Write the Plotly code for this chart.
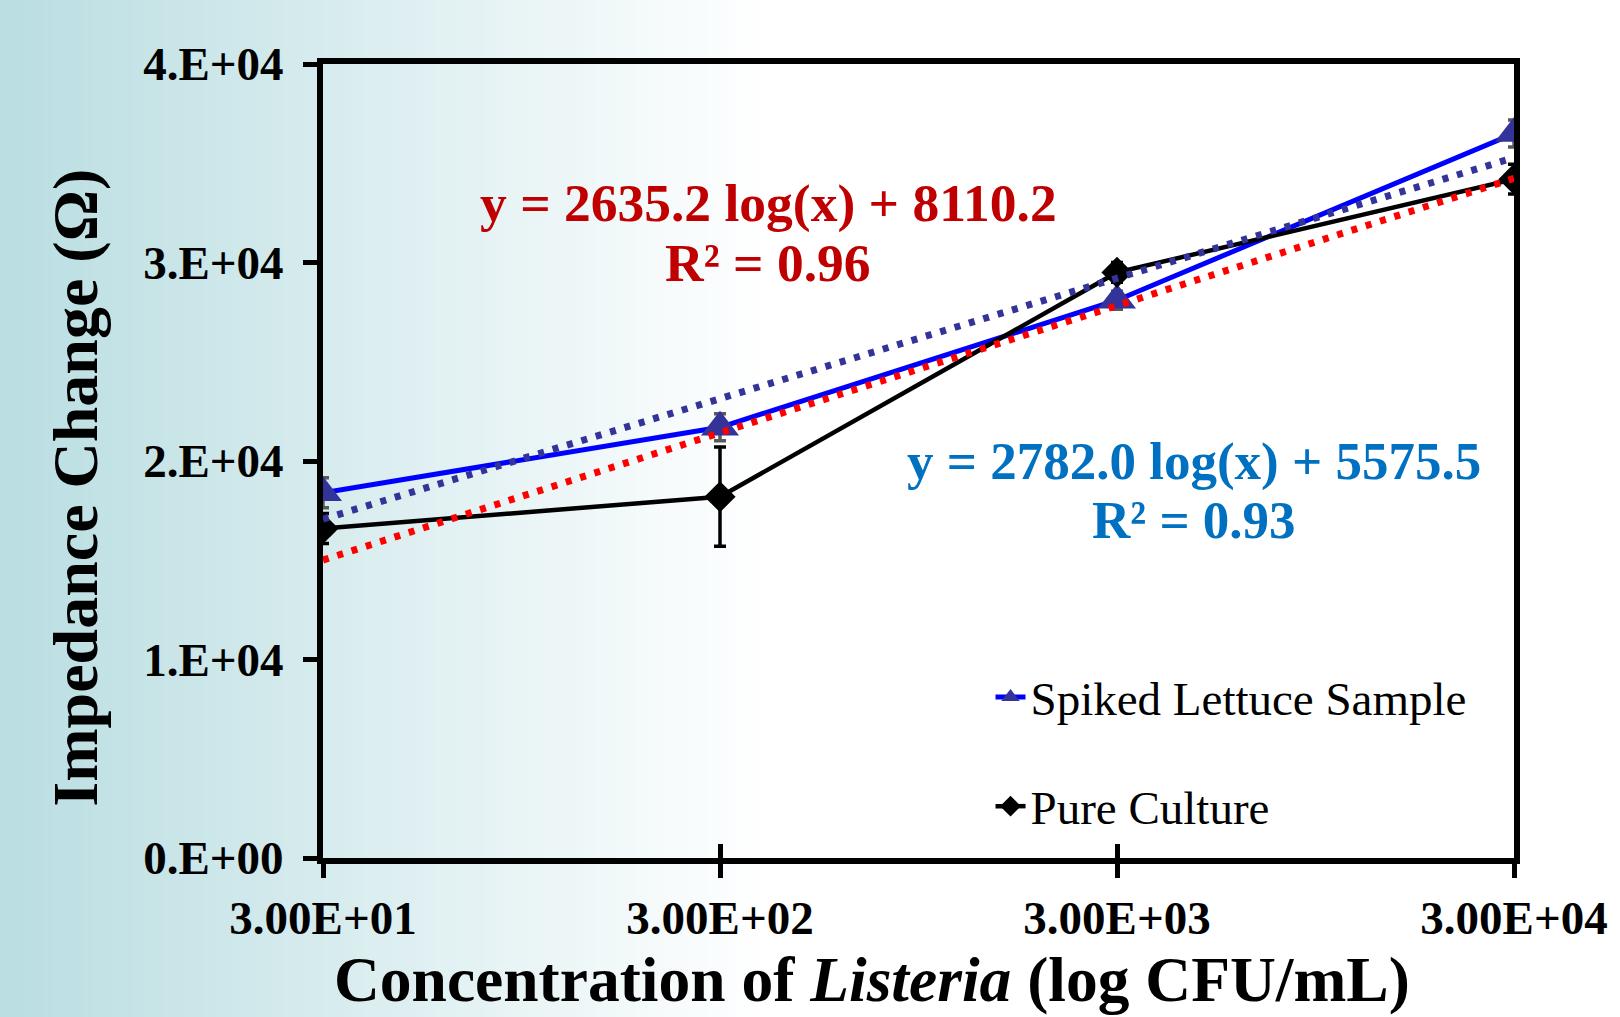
import numpy as np
import plotly.graph_objects as go

# ---- data ----
concentration = [30, 300, 3000, 30000]
x_tick_labels = ["3.00E+01", "3.00E+02", "3.00E+03", "3.00E+04"]
y_tick_values = [0, 10000, 20000, 30000, 40000]
y_tick_labels = ["0.E+00", "1.E+04", "2.E+04", "3.E+04", "4.E+04"]

lettuce = [18400, 21700, 28100, 36500]
lettuce_err = [750, 680, 450, 680]
pure = [16600, 18200, 29500, 34200]
pure_err = [750, 2500, 500, 750]

eq_lettuce = ["y = 2635.2 log(x) + 8110.2", "R² = 0.96"]
eq_pure = ["y = 2782.0 log(x) + 5575.5", "R² = 0.93"]

# ---- geometry (pixels) ----
W, H = 1620, 1017
L, R, T, B = 323, 98, 64, 159
PW, PH = W - L - R, H - T - B


def px_x(p):
    return (p - L) / PW


def px_y(p):
    return (H - B - p) / PH


SERIF = "Liberation Serif, Times New Roman, serif"

fig = go.Figure()

# main series
fig.add_trace(go.Scatter(
    x=concentration, y=lettuce, mode="lines+markers", name="Spiked Lettuce Sample",
    line=dict(color="#0000FF", width=5),
    marker=dict(symbol="triangle-up", size=33, color="#333399", line=dict(width=0)),
    error_y=dict(type="data", array=lettuce_err, visible=True, color="#595959", thickness=3.5, width=6),
    legendgroup="a",
))
fig.add_trace(go.Scatter(
    x=concentration, y=pure, mode="lines+markers", name="Pure Culture",
    line=dict(color="#000000", width=4.5),
    marker=dict(symbol="diamond", size=24, color="#000000", line=dict(width=0)),
    error_y=dict(type="data", array=pure_err, visible=True, color="#000000", thickness=3.5, width=6),
    legendgroup="b",
))

# logarithmic trendlines fitted to the data
lx = np.log(np.array(concentration, dtype=float))
for vals, col in [(lettuce, "#333399"), (pure, "#FF0000")]:
    a, b = np.polyfit(lx, np.array(vals, dtype=float), 1)
    fig.add_trace(go.Scatter(
        x=concentration, y=a * lx + b, mode="lines", showlegend=False, hoverinfo="skip",
        line=dict(color=col, width=7, dash="6px,9px"),
    ))

# invisible trace to carry the inside-tick overlay axis
fig.add_trace(go.Scatter(x=concentration, y=lettuce, xaxis="x2", mode="markers",
                         marker=dict(opacity=0), showlegend=False, hoverinfo="skip"))

# background gradient strips
shapes = []
c0 = np.array([186, 222, 226])
c1 = np.array([255, 255, 255])
n = 75
grad_end = 760
for i in range(n):
    p0 = grad_end * i / n if i else -20
    p1 = grad_end * (i + 1) / n + 1
    t = (i + 0.5) / n
    c = (c0 + (c1 - c0) * t).astype(int)
    shapes.append(dict(type="rect", xref="paper", yref="paper", layer="below",
                       x0=px_x(p0), x1=px_x(p1), y0=px_y(H + 20), y1=px_y(-20),
                       fillcolor=f"rgb({c[0]},{c[1]},{c[2]})", line=dict(width=0)))

annotations = []
for txt, yy in zip(eq_lettuce, [203, 263]):
    annotations.append(dict(text=f"<b>{txt}</b>", xref="paper", yref="paper",
                            x=px_x(771), y=px_y(yy), xanchor="center", yanchor="middle",
                            showarrow=False, font=dict(family=SERIF, size=53.5, color="#C00000")))
for txt, yy in zip(eq_pure, [462, 520]):
    annotations.append(dict(text=f"<b>{txt}</b>", xref="paper", yref="paper",
                            x=px_x(1200), y=px_y(yy), xanchor="center", yanchor="middle",
                            showarrow=False, font=dict(family=SERIF, size=53, color="#0070C0")))
annotations.append(dict(text="<b>Concentration of <i>Listeria</i> (log CFU/mL)</b>",
                        xref="paper", yref="paper", x=px_x(876), y=px_y(980),
                        xanchor="center", yanchor="middle", showarrow=False,
                        font=dict(family=SERIF, size=63.5, color="#000000")))
annotations.append(dict(text="<b>Impedance Change (Ω)</b>", textangle=-90,
                        xref="paper", yref="paper", x=px_x(73), y=px_y(488),
                        xanchor="center", yanchor="middle", showarrow=False,
                        font=dict(family=SERIF, size=64, color="#000000")))

xr = [np.log10(concentration[0]), np.log10(concentration[-1])]
fig.update_layout(
    width=W, height=H, autosize=False,
    margin=dict(l=L, r=R, t=T, b=B, pad=0),
    paper_bgcolor="white", plot_bgcolor="rgba(0,0,0,0)",
    shapes=shapes, annotations=annotations,
    xaxis=dict(type="log", range=xr, tickvals=concentration, ticktext=x_tick_labels,
               showline=True, mirror=True, linecolor="black", linewidth=6,
               ticks="outside", ticklen=14, tickwidth=5, tickcolor="black",
               showgrid=False, zeroline=False, ticklabelstandoff=0,
               tickfont=dict(family=SERIF, size=47, color="black", weight="bold")),
    xaxis2=dict(type="log", range=xr, tickvals=concentration, overlaying="x",
                showticklabels=False, ticks="inside", ticklen=14, tickwidth=5,
                tickcolor="black", showgrid=False, zeroline=False, showline=False),
    yaxis=dict(range=[0, 40000], tickvals=y_tick_values, ticktext=y_tick_labels,
               showline=True, mirror=True, linecolor="black", linewidth=6,
               ticks="outside", ticklen=14, tickwidth=5, tickcolor="black",
               showgrid=False, zeroline=False, ticklabelstandoff=10,
               tickfont=dict(family=SERIF, size=47, color="black", weight="bold")),
    showlegend=True,
    legend=dict(x=px_x(995), y=px_y(660), xanchor="left", yanchor="top",
                bgcolor="rgba(0,0,0,0)", traceorder="grouped", tracegroupgap=45,
                font=dict(family=SERIF, size=47, color="black")),
)

fig.write_html("out.html", config={"displayModeBar": False},
               post_script="document.body.style.margin='0';")
